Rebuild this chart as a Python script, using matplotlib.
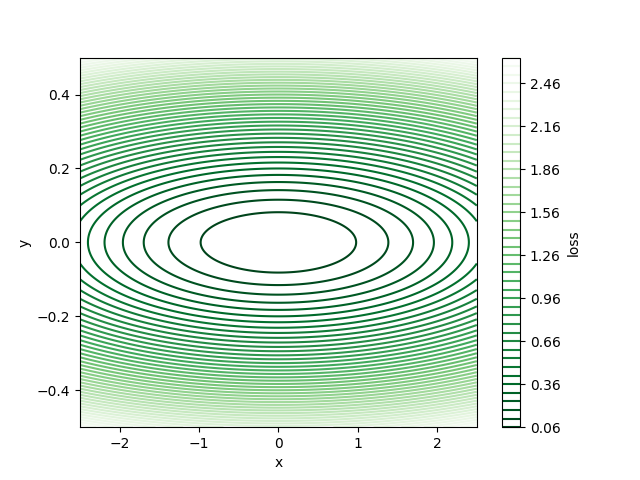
import numpy as np
import matplotlib
matplotlib.use("Agg")
import matplotlib.pyplot as plt

# loss surface: loss = x^2 / 16 + 9 * y^2
x_range = [-2.5, 2.5]
y_range = [-0.5, 0.5]
coef_x = 1 / 16
coef_y = 9.0
level_values = np.round(np.arange(0.06, 2.65, 0.06), 2)

xs = np.linspace(x_range[0], x_range[1], 400)
ys = np.linspace(y_range[0], y_range[1], 400)
X, Y = np.meshgrid(xs, ys)
Z = coef_x * X ** 2 + coef_y * Y ** 2

fig = plt.figure(figsize=(6.4, 4.8), dpi=100)
cs = plt.contour(X, Y, Z, levels=level_values, cmap='Greens_r')
cb = plt.colorbar(cs)
cb.set_label('loss')
plt.xlabel('x')
plt.ylabel('y')

plt.savefig('out.png')
